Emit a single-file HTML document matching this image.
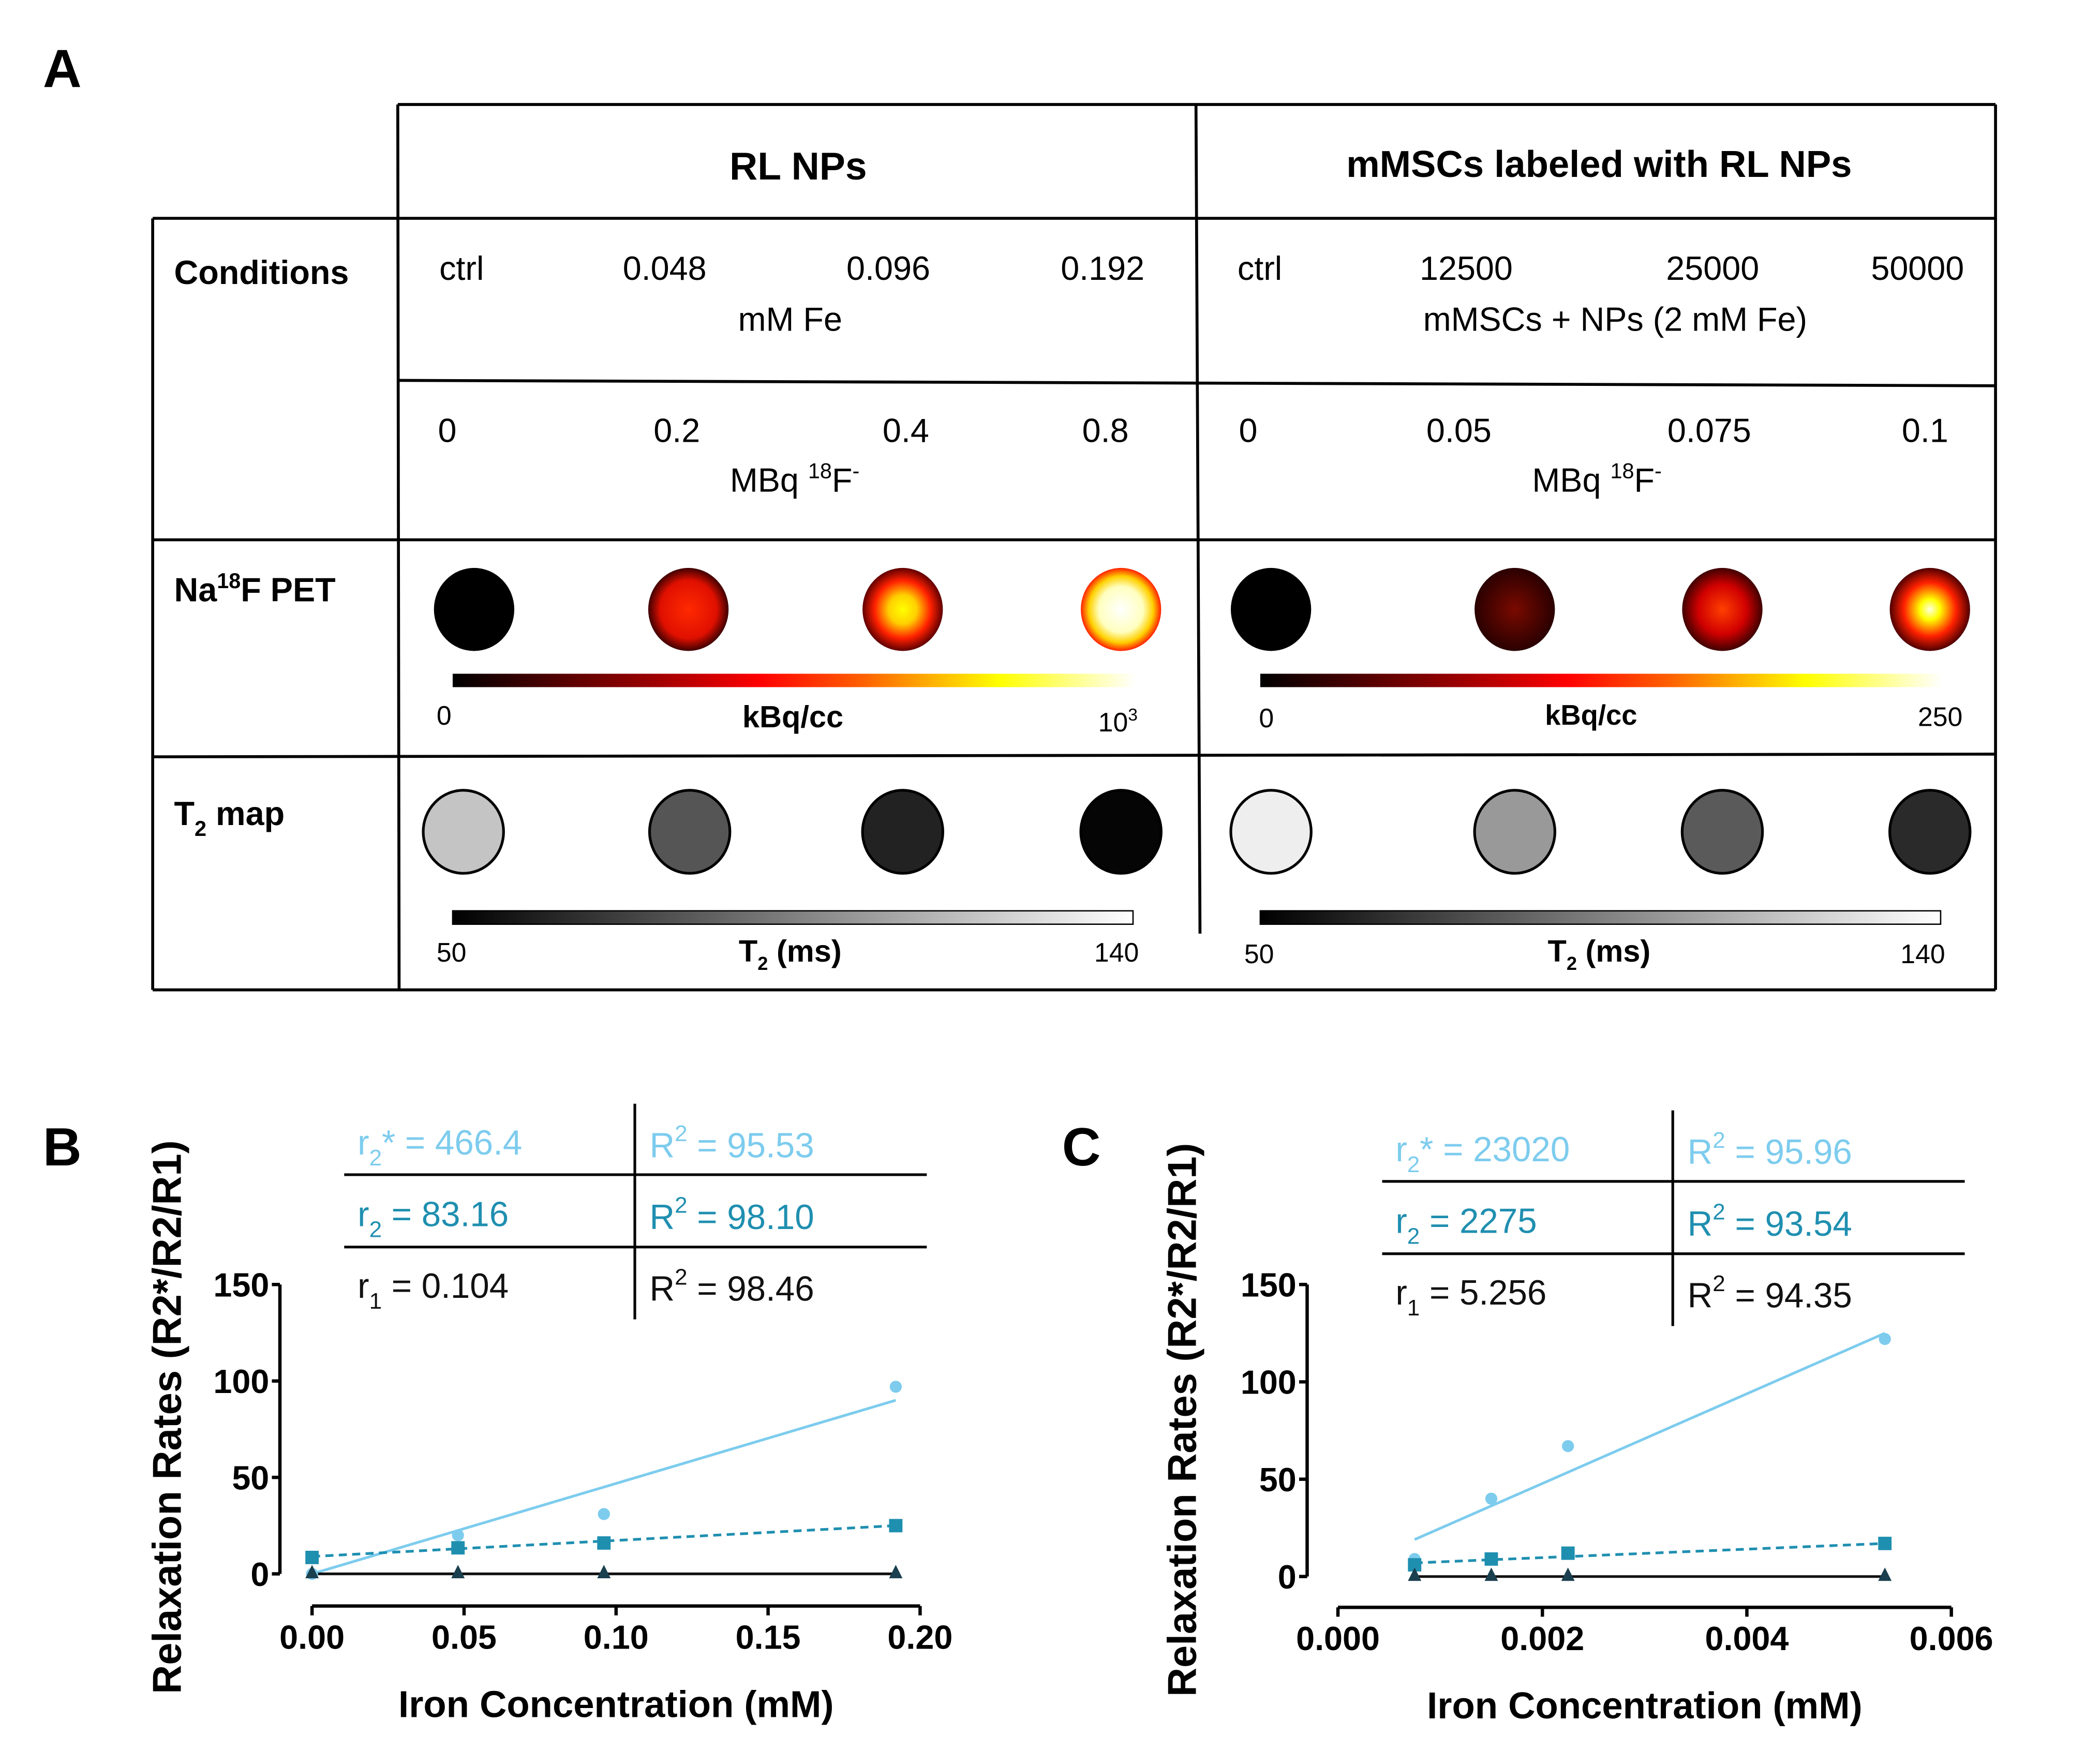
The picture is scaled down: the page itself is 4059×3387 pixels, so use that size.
<!DOCTYPE html>
<html><head><meta charset="utf-8"><style>
html,body{margin:0;padding:0;background:#fff;}
svg{display:block;font-family:"Liberation Sans",sans-serif;}
</style></head><body>
<svg id="fig" width="4059" height="3387" viewBox="0 0 1568 1308" preserveAspectRatio="none" xmlns="http://www.w3.org/2000/svg">
<defs>
<linearGradient id="hot" x1="0" x2="1" y1="0" y2="0">
<stop offset="0" stop-color="#000"/><stop offset="0.3" stop-color="#a00000"/><stop offset="0.45" stop-color="#ff0000"/><stop offset="0.6" stop-color="#ff6000"/><stop offset="0.8" stop-color="#ffff00"/><stop offset="1" stop-color="#ffffff"/>
</linearGradient>
<linearGradient id="gray" x1="0" x2="1"><stop offset="0" stop-color="#000"/><stop offset="1" stop-color="#fff"/></linearGradient>
<radialGradient id="p1"><stop offset="0" stop-color="#ff2a00"/><stop offset="0.7" stop-color="#e01000"/><stop offset="1" stop-color="#400000"/></radialGradient>
<radialGradient id="p2"><stop offset="0" stop-color="#ffff00"/><stop offset="0.35" stop-color="#ffd000"/><stop offset="0.7" stop-color="#ff2000"/><stop offset="1" stop-color="#600000"/></radialGradient>
<radialGradient id="p3"><stop offset="0" stop-color="#fff"/><stop offset="0.55" stop-color="#ffffc0"/><stop offset="0.8" stop-color="#ffd000"/><stop offset="1" stop-color="#ff2000"/></radialGradient>
<radialGradient id="q1"><stop offset="0" stop-color="#7a0a00"/><stop offset="1" stop-color="#2a0000"/></radialGradient>
<radialGradient id="q2"><stop offset="0" stop-color="#ff4000"/><stop offset="0.6" stop-color="#d00000"/><stop offset="1" stop-color="#400000"/></radialGradient>
<radialGradient id="q3"><stop offset="0" stop-color="#ffffe0"/><stop offset="0.25" stop-color="#ffff00"/><stop offset="0.65" stop-color="#ff2000"/><stop offset="1" stop-color="#500000"/></radialGradient>
</defs>

<text x="32" y="65" font-size="40" font-weight="bold">A</text>

<g stroke="#000" stroke-width="2.2" fill="none">
<line x1="297" y1="78" x2="1490" y2="78"/>
<line x1="1490" y1="78" x2="1490" y2="739"/>
<line x1="297" y1="78" x2="298" y2="739"/>
<line x1="893" y1="78" x2="896" y2="697"/>
<line x1="114" y1="163" x2="1490" y2="163"/>
<line x1="114" y1="163" x2="114" y2="739"/>
<line x1="114" y1="739" x2="1490" y2="739"/>
<line x1="298" y1="284" x2="1490" y2="288"/>
<line x1="114" y1="403" x2="1490" y2="403"/>
<line x1="114" y1="565" x2="1490" y2="563"/>
</g>

<g font-size="25">
<text x="596" y="134" text-anchor="middle" font-size="29" font-weight="bold">RL NPs</text>
<text x="1194" y="132" text-anchor="middle" font-size="28" font-weight="bold">mMSCs labeled with RL NPs</text>
<text x="130" y="212" font-weight="bold">Conditions</text>
<text x="130" y="449" font-weight="bold">Na<tspan font-size="16" dy="-10">18</tspan><tspan dy="10">F PET</tspan></text>
<text x="130" y="616" font-weight="bold">T<tspan font-size="16" dy="8">2</tspan><tspan dy="-8"> map</tspan></text>

<text x="328" y="209">ctrl</text><text x="465" y="209">0.048</text><text x="632" y="209">0.096</text><text x="792" y="209">0.192</text>
<text x="590" y="247" text-anchor="middle">mM Fe</text>
<text x="924" y="209">ctrl</text><text x="1060" y="209">12500</text><text x="1244" y="209">25000</text><text x="1397" y="209">50000</text>
<text x="1206" y="247" text-anchor="middle">mMSCs + NPs (2 mM Fe)</text>

<text x="327" y="330">0</text><text x="488" y="330">0.2</text><text x="659" y="330">0.4</text><text x="808" y="330">0.8</text>
<text x="545" y="367">MBq <tspan font-size="16" dy="-10">18</tspan><tspan dy="10">F</tspan><tspan font-size="16" dy="-10">-</tspan></text>
<text x="925" y="330">0</text><text x="1065" y="330">0.05</text><text x="1245" y="330">0.075</text><text x="1420" y="330">0.1</text>
<text x="1144" y="367">MBq <tspan font-size="16" dy="-10">18</tspan><tspan dy="10">F</tspan><tspan font-size="16" dy="-10">-</tspan></text>
</g>

<g>
<ellipse cx="354" cy="455" rx="30" ry="31" fill="#000"/>
<ellipse cx="514" cy="455" rx="30" ry="31" fill="url(#p1)"/>
<ellipse cx="674" cy="455" rx="30" ry="31" fill="url(#p2)"/>
<ellipse cx="837" cy="455" rx="30" ry="31" fill="url(#p3)"/>
<ellipse cx="949" cy="455" rx="30" ry="31" fill="#000"/>
<ellipse cx="1131" cy="455" rx="30" ry="31" fill="url(#q1)"/>
<ellipse cx="1286" cy="455" rx="30" ry="31" fill="url(#q2)"/>
<ellipse cx="1441" cy="455" rx="30" ry="31" fill="url(#q3)"/>
</g>
<rect x="338" y="503" width="510" height="10" fill="url(#hot)"/>
<rect x="941" y="503" width="509" height="10" fill="url(#hot)"/>
<g font-size="20">
<text x="326" y="541">0</text><text x="592" y="543" text-anchor="middle" font-size="23" font-weight="bold">kBq/cc</text><text x="820" y="546">10<tspan font-size="13" dy="-8">3</tspan></text>
<text x="940" y="543">0</text><text x="1188" y="541" text-anchor="middle" font-size="21" font-weight="bold">kBq/cc</text><text x="1432" y="542">250</text>
</g>

<g stroke="#000" stroke-width="2">
<ellipse cx="346" cy="621" rx="30" ry="31" fill="#c4c4c4"/>
<ellipse cx="515" cy="621" rx="30" ry="31" fill="#555"/>
<ellipse cx="674" cy="621" rx="30" ry="31" fill="#222"/>
<ellipse cx="837" cy="621" rx="30" ry="31" fill="#050505"/>
<ellipse cx="949" cy="621" rx="30" ry="31" fill="#eee"/>
<ellipse cx="1131" cy="621" rx="30" ry="31" fill="#999"/>
<ellipse cx="1286" cy="621" rx="30" ry="31" fill="#5a5a5a"/>
<ellipse cx="1441" cy="621" rx="30" ry="31" fill="#2a2a2a"/>
</g>
<rect x="338" y="680" width="508" height="10" fill="url(#gray)" stroke="#000" stroke-width="1"/>
<rect x="941" y="680" width="508" height="10" fill="url(#gray)" stroke="#000" stroke-width="1"/>
<g font-size="20">
<text x="326" y="718">50</text><text x="590" y="718" text-anchor="middle" font-size="23" font-weight="bold">T<tspan font-size="14" dy="6">2</tspan><tspan dy="-6"> (ms)</tspan></text><text x="817" y="718">140</text>
<text x="929" y="719">50</text><text x="1194" y="718" text-anchor="middle" font-size="23" font-weight="bold">T<tspan font-size="14" dy="6">2</tspan><tspan dy="-6"> (ms)</tspan></text><text x="1419" y="719">140</text>
</g>

<text x="32" y="870" font-size="40" font-weight="bold">B</text>
<text x="793" y="870" font-size="40" font-weight="bold">C</text>

<g id="chartB"></g>
<g id="chartC"></g>
</svg>
<script>
const NS='http://www.w3.org/2000/svg';
// Chart B data
const bX=[0,0.048,0.096,0.192];
const bR2s=[0,20,31,97];
const bR2=[8.5,13.5,16,25];
const bR1=[0.5,0.5,0.5,0.5];
const bFitR2s=[0,90];
const bFitR2=[9,25];
const bXTicks=[0,0.05,0.10,0.15,0.20];
const bXTickLabels=['0.00','0.05','0.10','0.15','0.20'];
const bStats=[['r','2','* = 466.4','95.53'],['r','2',' = 83.16','98.10'],['r','1',' = 0.104','98.46']];
// Chart C data
const cX=[0.00075,0.0015,0.00225,0.00535];
const cR2s=[9,40,67,122];
const cR2=[6,9,12,17];
const cR1=[0.5,0.5,0.5,0.5];
const cFitR2s=[19,125];
const cFitR2=[7,17];
const cXTicks=[0,0.002,0.004,0.006];
const cXTickLabels=['0.000','0.002','0.004','0.006'];
const cStats=[['r','2','* = 23020','95.96'],['r','2',' = 2275','93.54'],['r','1',' = 5.256','94.35']];
const yTicks=[0,50,100,150];
const yTickLabels=['0','50','100','150'];

function mk(parent,tag,attrs){const e=document.createElementNS(NS,tag);for(const k in attrs)e.setAttribute(k,attrs[k]);parent.appendChild(e);return e;}

function drawChart(g,cfg){
  const sx=v=>cfg.x0+(v-cfg.xmin)/(cfg.xmax-cfg.xmin)*(cfg.x1-cfg.x0);
  const sy=v=>cfg.yb-(v/150)*(cfg.yb-cfg.yt);
  const tl=cfg.tbl;
  let l=mk(g,'line',{x1:tl.x0,y1:tl.r1,x2:tl.x1,y2:tl.r1,stroke:'#000','stroke-width':2});
  
  
  mk(g,'line',{x1:tl.x0,y1:tl.r2,x2:tl.x1,y2:tl.r2,stroke:'#000','stroke-width':2});
  mk(g,'line',{x1:tl.xm,y1:tl.top,x2:tl.xm,y2:tl.bot,stroke:'#000','stroke-width':2});
  const cols=['#7dccee','#1f8fb0','#111'];
  cfg.stats.forEach((s,i)=>{
    const y=tl.ty+i*53.5;
    const t=mk(g,'text',{x:tl.x0+10,y:y,'font-size':26,fill:cols[i]});
    
    
    t.innerHTML=s[0]+'<tspan font-size="17" dy="8">'+s[1]+'</tspan><tspan dy="-8">'+s[2]+'</tspan>';
    const t2=mk(g,'text',{x:tl.xm+11,y:y+2,'font-size':26,fill:cols[i]});
    
    
    t2.innerHTML='R<tspan font-size="17" dy="-12">2</tspan><tspan dy="12"> = '+s[3]+'</tspan>';
  });
  const ya=mk(g,'line',{x1:cfg.yax,y1:sy(150),x2:cfg.yax,y2:sy(0),stroke:'#000','stroke-width':2.5});
  
  
  yTicks.forEach((v,i)=>{
    mk(g,'line',{x1:cfg.yax-6,y1:sy(v),x2:cfg.yax,y2:sy(v),stroke:'#000','stroke-width':2.5});
    const t=mk(g,'text',{x:cfg.yax-8,y:sy(v)+9,'text-anchor':'end','font-size':25,'font-weight':'bold'});
    
    
    t.textContent=yTickLabels[i];
  });
  const xa=mk(g,'line',{x1:sx(cfg.xmin),y1:cfg.xay,x2:sx(cfg.xmax),y2:cfg.xay,stroke:'#000','stroke-width':2.5});
  
  
  cfg.xticks.forEach((v,i)=>{
    mk(g,'line',{x1:sx(v),y1:cfg.xay,x2:sx(v),y2:cfg.xay+7,stroke:'#000','stroke-width':2.5});
    const t=mk(g,'text',{x:sx(v),y:cfg.xay+32,'text-anchor':'middle','font-size':25,'font-weight':'bold'});
    
    
    t.textContent=cfg.xlabels[i];
  });
  const xt=mk(g,'text',{x:(sx(cfg.xmin)+sx(cfg.xmax))/2,y:cfg.xay+83,'text-anchor':'middle','font-size':28,'font-weight':'bold'});
  
  
  xt.textContent='Iron Concentration (mM)';
  const yt=mk(g,'text',{x:0,y:0,'text-anchor':'middle','font-size':30,'font-weight':'bold',transform:'translate('+(cfg.ytx)+','+cfg.yty+') rotate(-90)'});
  
  
  yt.textContent='Relaxation Rates (R2*/R2/R1)';
  const xs=cfg.X, xf0=xs[0], xf1=xs[xs.length-1];
  let f=mk(g,'line',{x1:sx(xf0),y1:sy(cfg.fit2s[0]),x2:sx(xf1),y2:sy(cfg.fit2s[1]),stroke:'#7dccee','stroke-width':2});
  
  
  f=mk(g,'line',{x1:sx(xf0),y1:sy(cfg.fit2[0]),x2:sx(xf1),y2:sy(cfg.fit2[1]),stroke:'#1f8fb0','stroke-width':2,'stroke-dasharray':'6,4'});
  
  
  f=mk(g,'line',{x1:sx(xf0),y1:sy(0),x2:sx(xf1),y2:sy(0),stroke:'#111','stroke-width':2});
  
  
  xs.forEach((x,i)=>{
    const c=mk(g,'circle',{cx:sx(x),cy:sy(cfg.r2s[i]),r:4.5,fill:'#7dccee'});
    
    
    const s=mk(g,'rect',{x:sx(x)-5,y:sy(cfg.r2[i])-5,width:10,height:10,fill:'#1f8fb0'});
    
    
    const px=sx(x),py=sy(cfg.r1[i]);
    const tr=mk(g,'polygon',{points:(px-5)+','+(py+4)+' '+(px+5)+','+(py+4)+' '+px+','+(py-6),fill:'#1a3f4e'});
    
    
  });
}
drawChart(document.getElementById('chartB'),{x0:233,x1:687,xmin:0,xmax:0.2,yt:959,yb:1175,yax:209,xay:1199,
  X:bX,r2s:bR2s,r2:bR2,r1:bR1,fit2s:bFitR2s,fit2:bFitR2,xticks:bXTicks,xlabels:bXTickLabels,stats:bStats,
  ytx:135,yty:1058,tbl:{x0:257,x1:692,xm:474,r1:877,r2:931,top:824,bot:985,ty:862}});
drawChart(document.getElementById('chartC'),{x0:999,x1:1457,xmin:0,xmax:0.006,yt:959,yb:1177,yax:976,xay:1200,
  X:cX,r2s:cR2s,r2:cR2,r1:cR1,fit2s:cFitR2s,fit2:cFitR2,xticks:cXTicks,xlabels:cXTickLabels,stats:cStats,
  ytx:893,yty:1060,tbl:{x0:1032,x1:1467,xm:1249,r1:882,r2:936,top:829,bot:990,ty:867}});
</script>
</body></html>
